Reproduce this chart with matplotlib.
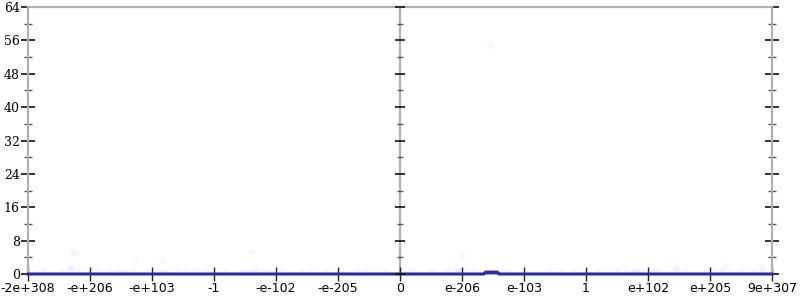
import matplotlib
matplotlib.use("Agg")
import matplotlib.pyplot as plt
import numpy as np

# ---- data ----
tick_labels = ["-2e+308", "-e+206", "-e+103", "-1", "-e-102", "-e-205", "0",
               "e-206", "e-103", "1", "e+102", "e+205", "9e+307"]
y_ticks = [0, 8, 16, 24, 32, 40, 48, 56, 64]

# density curve (position in tick units, value)
curve_x = [0.0, 7.35, 7.38, 7.57, 7.60, 12.0]
curve_y = [0.0, 0.0, 0.45, 0.45, 0.0, 0.0]

# faint sample points
pts_x = [0.25, 0.55, 0.70, 0.80, 1.00, 1.05, 1.15, 1.30, 1.45, 1.55, 1.70, 1.90, 2.10,
         2.20, 2.40, 2.55, 2.70, 2.85, 3.00, 3.20, 3.45, 3.55, 3.65, 3.80, 3.95, 4.10,
         4.40, 4.55, 4.80, 5.05, 5.30, 5.45, 5.75, 6.05, 6.20, 6.50, 6.75, 6.95,
         6.95, 7.05, 7.20, 7.40, 7.65, 7.75, 8.00, 8.40, 8.60, 8.80, 9.20, 9.50,
         9.65, 9.75, 9.80, 9.90, 10.05, 10.15, 10.45, 10.60, 10.95, 11.05, 11.20,
         11.25, 11.50, 11.70, 11.85, 0.70, 0.68, 0.78, 2.16, 1.73, 3.60, 3.69, 7.0,
         6.90, 10.45, 11.83, 10.10, 7.45]
pts_y = [0.9, 0.6, 1.4, 0.6, 0.6, 1.4, 0.7, 0.6, 0.7, 0.6, 0.8, 0.6, 0.7,
         0.6, 0.7, 0.6, 0.8, 0.6, 0.6, 0.8, 0.6, 0.7, 0.6, 0.8, 0.6, 0.6,
         0.7, 0.6, 0.6, 0.7, 0.6, 0.6, 0.7, 0.6, 0.7, 0.6, 0.6, 0.7,
         0.6, 1.2, 0.8, 0.6, 0.7, 0.6, 0.7, 0.6, 0.8, 0.6, 0.7, 0.6,
         1.5, 0.7, 0.6, 0.8, 0.6, 1.0, 1.4, 0.7, 0.9, 0.6, 0.8,
         2.2, 0.6, 0.7, 0.6, 5.3, 1.4, 5.3, 3.1, 3.6, 5.5, 1.0, 4.6,
         0.9, 1.2, 1.6, 0.6, 55.0]

# ---- figure ----
fig = plt.figure(figsize=(8, 3), dpi=100)
ax = fig.add_axes([28/800, 1-274/300, (772-28)/800, (274-7)/300])
ax.set_xlim(0, 12)
ax.set_ylim(0, 64)

ax.plot(pts_x, pts_y, 'o', color='#3030ff', alpha=0.035, markersize=5,
        markeredgewidth=0, zorder=2)
ax.fill_between(curve_x, 0, curve_y, color='#3a3ae0', zorder=3, linewidth=0)
ax.plot(curve_x, curve_y, color='#2a2aa8', linewidth=2.2, zorder=4,
        solid_joinstyle='miter', clip_on=False)

# spines
for s in ['left', 'right', 'top']:
    ax.spines[s].set_color('#b0b0b0')
    ax.spines[s].set_linewidth(1.6)
ax.spines['bottom'].set_visible(False)
ax.axvline(6, color='#b0b0b0', linewidth=1.6, zorder=1)

# ticks
ax.set_xticks(range(len(tick_labels)))
ax.set_xticklabels(tick_labels, fontsize=9, family='DejaVu Sans')
ax.set_yticks(y_ticks)
ax.set_yticklabels([str(v) for v in y_ticks], fontsize=9, family='DejaVu Serif')
ax.set_yticks(np.arange(4, 64, 8), minor=True)
ax.tick_params(axis='x', direction='inout', length=10, width=1, color='#222222',
               pad=1, top=False)
ax.tick_params(axis='y', which='major', direction='inout', length=10, width=1.2,
               color='#111111', right=True, pad=1)
ax.tick_params(axis='y', which='minor', direction='inout', length=6, width=1,
               color='#555555', right=True)

# center axis ticks
ax.plot([6]*len(y_ticks), y_ticks, linestyle='none', marker='_', markersize=7.5,
        markeredgewidth=1.2, color='#111111', zorder=5, clip_on=False)
ax.plot([6]*8, np.arange(4, 64, 8), linestyle='none', marker='_', markersize=4.5,
        markeredgewidth=1, color='#555555', zorder=5, clip_on=False)

fig.savefig("out.png", dpi=100)
